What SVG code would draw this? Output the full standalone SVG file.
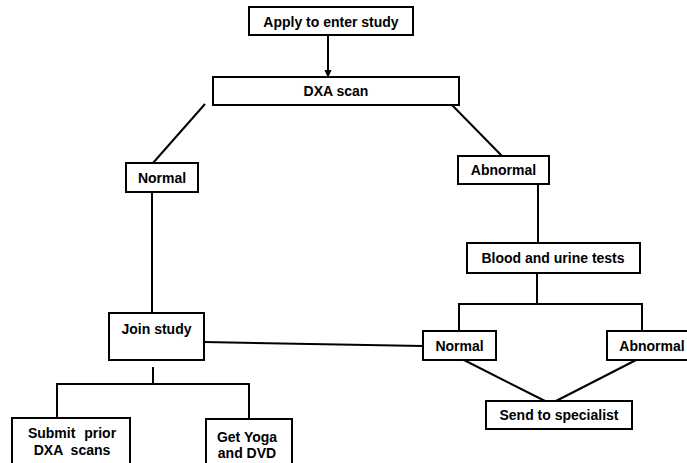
<svg xmlns="http://www.w3.org/2000/svg" width="687" height="463" viewBox="0 0 687 463">
<style>
.box{fill:#fff;stroke:#000;stroke-width:2}
.lbl{font-family:"Liberation Sans",Arial,sans-serif;font-weight:bold;font-size:14px;fill:#000;text-anchor:middle}
.ln{fill:none;stroke:#000;stroke-width:2}
</style>
<defs>
<marker id="ah" markerWidth="8" markerHeight="8" refX="7" refY="4" orient="auto" markerUnits="userSpaceOnUse">
<path d="M0,0.5 L8,4 L0,7.5 Z" fill="#000"/>
</marker>
</defs>
<rect width="687" height="463" fill="#fff"/>
<g id="connectors">
<line class="ln" x1="328" y1="35" x2="328" y2="77" marker-end="url(#ah)"/>
<line class="ln" x1="205" y1="104" x2="153" y2="163"/>
<line class="ln" x1="451" y1="104" x2="502" y2="156"/>
<line class="ln" x1="152" y1="192" x2="152" y2="313"/>
<line class="ln" x1="538" y1="184" x2="538" y2="243"/>
<polyline class="ln" points="537,273 537,304"/>
<polyline class="ln" points="459,331 459,304 642,304 642,331"/>
<line class="ln" x1="204" y1="342" x2="423" y2="346"/>
<line class="ln" x1="153" y1="367" x2="153" y2="384"/>
<polyline class="ln" points="57,418 57,384 249,384 249,419"/>
<line class="ln" x1="460" y1="358" x2="545" y2="401"/>
<line class="ln" x1="640" y1="358" x2="556" y2="401"/>
</g>
<g id="apply"><rect class="box" x="249" y="7" width="164" height="28"/><text class="lbl" x="331" y="27">Apply to enter study</text></g>
<g id="dxa"><rect class="box" x="213" y="77" width="246" height="28"/><text class="lbl" x="336" y="96">DXA scan</text></g>
<g id="normal1"><rect class="box" x="126" y="163" width="72" height="29"/><text class="lbl" x="162" y="183">Normal</text></g>
<g id="abnormal1"><rect class="box" x="458" y="156" width="91" height="28"/><text class="lbl" x="503.5" y="175">Abnormal</text></g>
<g id="blood"><rect class="box" x="467" y="243" width="173" height="30"/><text class="lbl" x="553" y="263">Blood and urine tests</text></g>
<g id="join"><rect class="box" x="109" y="313" width="95" height="47"/><text class="lbl" x="156.5" y="334">Join study</text></g>
<g id="normal2"><rect class="box" x="423" y="331" width="73" height="29"/><text class="lbl" x="459.5" y="351">Normal</text></g>
<g id="abnormal2"><rect class="box" x="607" y="331" width="90" height="29"/><text class="lbl" x="652" y="351">Abnormal</text></g>
<g id="specialist"><rect class="box" x="486" y="401" width="146" height="28"/><text class="lbl" x="559" y="420">Send to specialist</text></g>
<g id="submit"><rect class="box" x="12" y="418" width="118" height="50"/><text class="lbl" x="72" y="438" word-spacing="5">Submit prior</text><text class="lbl" x="72" y="455" word-spacing="4">DXA scans</text></g>
<g id="yoga"><rect class="box" x="206" y="419" width="86" height="50"/><text class="lbl" x="247" y="442">Get Yoga</text><text class="lbl" x="247" y="458">and DVD</text></g>
</svg>
